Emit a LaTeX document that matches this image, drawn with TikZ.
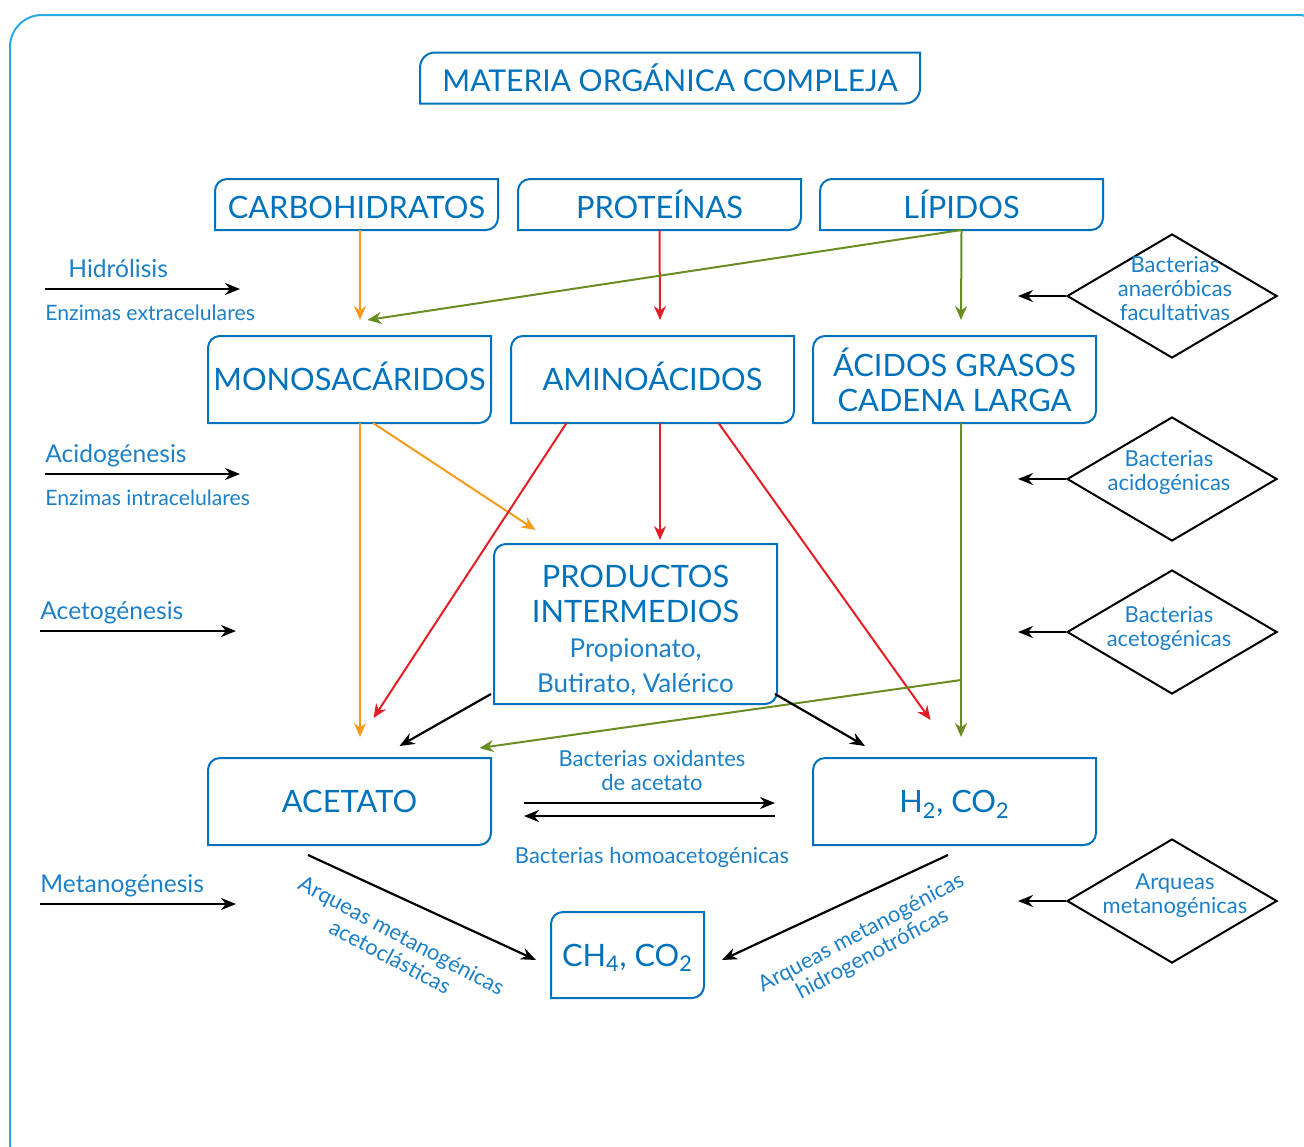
\documentclass[tikz,border=0pt]{standalone}
\usepackage{fontspec}
\setmainfont{Lato}
\usepackage{tikz}
\usetikzlibrary{shapes.geometric, arrows.meta, positioning, calc}
\usepackage{xcolor}
\definecolor{azul}{RGB}{0,114,188}
\definecolor{azulclaro}{RGB}{28,128,200}
\definecolor{celeste}{RGB}{41,171,226}
\definecolor{naranja}{RGB}{246,155,28}
\definecolor{rojo}{RGB}{228,30,38}
\definecolor{verde}{RGB}{104,142,35}
\newcommand{\bordecaja}[2][6pt]{%
  \draw[borde] (#2.south west) -- ([yshift=-#1]#2.north west)
    arc[start angle=180, end angle=90, radius=#1] -- (#2.north east)
    -- ([yshift=#1]#2.south east) arc[start angle=0, end angle=-90, radius=#1] -- cycle;}

\begin{document}
\begin{tikzpicture}[
    x=0.5pt, y=0.5pt,
    caja/.style={minimum width=141.5pt, minimum height=43.5pt, inner sep=0pt, outer sep=0pt, align=center, text=azul, font=\fontsize{15.4}{17.5}\selectfont},
    linea/.style={text height=11pt, text depth=0pt},
    cajabaja/.style={caja, text height=13.5pt, text depth=0pt, minimum height=25.5pt},
    borde/.style={draw=azul, line width=1pt},
    rombo/.style={draw, diamond, minimum width=105pt, minimum height=62pt, inner sep=0pt, line width=1pt},
    rotulo/.style={text=azulclaro, align=center, font=\fontsize{11}{12}\selectfont},
    etapa/.style={anchor=base west, inner sep=0pt, text=azulclaro, font=\fontsize{12.3}{15}\selectfont},
    enzima/.style={anchor=base west, inner sep=0pt, text=azulclaro, font=\fontsize{10.6}{12}\selectfont},
    flecha/.style={-{Stealth[length=7.5pt, width=6pt]}, line width=1.1pt},
    fcolor/.style={-{Stealth[length=7pt, width=6pt]}, line width=1pt, draw=#1},
]
    \useasboundingbox (0,0) rectangle (1304,-1146);
    \draw[celeste, line width=1pt, rounded corners=16pt] (10,-15) rectangle (1330,-1175);

    \node[cajabaja, minimum width=250pt, font=\fontsize{15}{18}\selectfont] (titulo) at (670,-78) {MATERIA ORGÁNICA COMPLEJA};

    \node[cajabaja] (carbo) at (356.5,-204.5) {CARBOHIDRATOS};
    \node[cajabaja] (prot) at (659.5,-204.5) {PROTEÍNAS};
    \node[cajabaja] (lip) at (961.5,-204.5) {LÍPIDOS};

    \node[caja, linea] (mono) at (349.5,-379.5) {MONOSACÁRIDOS};
    \node[caja, linea] (amino) at (652.5,-379.5) {AMINOÁCIDOS};
    \node[caja] (acidos) at (954.5,-379.5) {ÁCIDOS GRASOS\\CADENA LARGA};

    \node[caja, minimum height=80pt] (prod) at (635.5,-624) {};
    \node[caja] (prodtxt) at (635.5,-631) {PRODUCTOS\\INTERMEDIOS\\{\color{azulclaro}\fontsize{13}{17.5}\selectfont Propionato,}\\{\color{azulclaro}\fontsize{13}{17.5}\selectfont Butirato, Valérico}};

    \node[caja, linea] (acet) at (349.5,-801.5) {ACETATO};
    \node[caja, linea] (hco) at (954.5,-801.5) {H\textsubscript{2}, CO\textsubscript{2}};
    \node[caja, linea, minimum width=76.5pt, minimum height=43pt] (ch4) at (627.5,-955) {CH\textsubscript{4}, CO\textsubscript{2}};

    \bordecaja[7.5pt]{titulo}
    \foreach \n in {carbo, prot, lip, mono, amino, acidos, prod, acet, hco, ch4}
        \bordecaja{\n};

    \node[etapa] (hidro) at (68,-277) {Hidrólisis};
    \node[enzima] (enzext) at (45,-320) {Enzimas extracelulares};
    \node[etapa] (acido) at (45,-462) {Acidogénesis};
    \node[enzima] (enzint) at (45,-505) {Enzimas intracelulares};
    \node[etapa] (aceto) at (40,-619) {Acetogénesis};
    \node[etapa] (metano) at (40,-892) {Metanogénesis};
    \coordinate (hA) at (45,-289);  \coordinate (hB) at (240,-289);
    \coordinate (aA) at (45,-474);  \coordinate (aB) at (240,-474);
    \coordinate (cA) at (40,-631);  \coordinate (cB) at (236,-631);
    \coordinate (mA) at (40,-904);  \coordinate (mB) at (236,-904);
    \draw[flecha] (hA) -- (hB);
    \draw[flecha] (aA) -- (aB);
    \draw[flecha] (cA) -- (cB);
    \draw[flecha] (mA) -- (mB);

    \node[rombo] (d1) at (1172,-296) {};
    \node[rombo] (d2) at (1172,-479) {};
    \node[rombo] (d3) at (1172,-632) {};
    \node[rombo] (d4) at (1172,-901) {};
    \node[rotulo] (t1) at (1175,-289) {Bacterias\\anaeróbicas\\facultativas};
    \node[rotulo] (t2) at (1169,-472) {Bacterias\\acidogénicas};
    \node[rotulo] (t3) at (1169,-628) {Bacterias\\acetogénicas};
    \node[rotulo] (t4) at (1175,-896) {Arqueas\\metanogénicas};
    \coordinate (f1) at (1018,-296);
    \coordinate (f2) at (1018,-479);
    \coordinate (f3) at (1018,-632);
    \coordinate (f4) at (1018,-901);
    \draw[flecha] (d1.west) -- (f1);
    \draw[flecha] (d2.west) -- (f2);
    \draw[flecha] (d3.west) -- (f3);
    \draw[flecha] (d4.west) -- (f4);

    \draw[fcolor=naranja] ([xshift=1.75pt]carbo.south) -- ([xshift=5.25pt,yshift=8pt]mono.north);
    \draw[fcolor=rojo] (prot.south) -- ([xshift=3.75pt,yshift=8pt]amino.north);
    \draw[fcolor=verde] (lip.south) -- ([xshift=3.25pt,yshift=8pt]acidos.north);
    \draw[fcolor=verde] (lip.south) -- ([xshift=9pt,yshift=8pt]mono.north);

    \draw[fcolor=naranja] ([xshift=5.25pt]mono.south) -- ([xshift=5.25pt,yshift=10.5pt]acet.north);
    \draw[fcolor=naranja] ([xshift=11.75pt]mono.south) -- ([xshift=-50pt,yshift=7pt]prod.north);
    \draw[fcolor=rojo] ([xshift=3.75pt]amino.south) -- ([xshift=12.25pt,yshift=2pt]prod.north);
    \draw[fcolor=rojo] ([xshift=-43pt]amino.south) -- ([xshift=12pt,yshift=20pt]acet.north);
    \draw[fcolor=rojo] ([xshift=33pt]amino.south) -- ([xshift=-12pt,yshift=19pt]hco.north);
    \draw[fcolor=verde] ([xshift=3.25pt]acidos.south) -- ([xshift=3.25pt,yshift=10.5pt]hco.north);
    \coordinate (g) at (961,-680);
    \draw[fcolor=verde] (g) -- ([xshift=65pt,yshift=5pt]acet.north);

    \draw[flecha] ([xshift=-1.5pt,yshift=5pt]prod.south west) -- ([xshift=25pt,yshift=6pt]acet.north);
    \draw[flecha] ([xshift=-1pt,yshift=5pt]prod.south east) -- ([xshift=-44.75pt,yshift=6pt]hco.north);
    \draw[flecha] ([xshift=16.5pt,yshift=-0.75pt]acet.east) -- ([xshift=-19pt,yshift=-0.75pt]hco.west);
    \draw[flecha] ([xshift=-19pt,yshift=-7.25pt]hco.west) -- ([xshift=16.5pt,yshift=-7.25pt]acet.east);
    \draw[flecha] ([xshift=-20.75pt,yshift=-5pt]acet.south) -- ([xshift=-7.5pt,yshift=-2.5pt]ch4.west);
    \draw[flecha] ([xshift=-3.25pt,yshift=-5pt]hco.south) -- ([xshift=9pt,yshift=-2.5pt]ch4.east);

    \node[rotulo] (oxid) at (652,-770) {Bacterias oxidantes\\de acetato};
    \node[rotulo] (homo) at (652,-857) {Bacterias homoacetogénicas};
    \node[rotulo, rotate=-28] (acla) at (396,-946) {Arqueas metanogénicas\\acetoclásticas};
    \node[rotulo, rotate=28] (hidr) at (867,-944) {Arqueas metanogénicas\\hidrogenotróficas};
\end{tikzpicture}
\end{document}
